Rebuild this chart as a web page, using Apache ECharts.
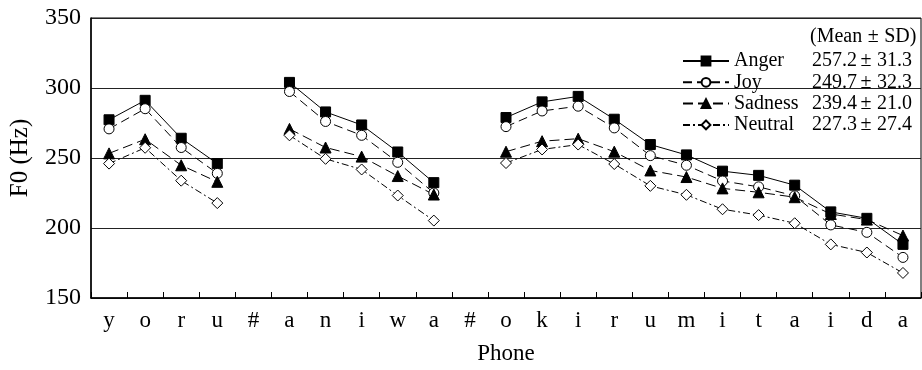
<!DOCTYPE html>
<html>
<head>
<meta charset="utf-8">
<script src="https://cdn.jsdelivr.net/npm/echarts@6/dist/echarts.min.js"></script>
<style>
  html, body { margin: 0; padding: 0; background: #fff; }
  #chart { width: 922px; height: 370px; }
</style>
</head>
<body>
<div id="chart"></div>
<script>
var phones = ['y','o','r','u','#','a','n','i','w','a','#','o','k','i','r','u','m','i','t','a','i','d','a'];

var anger   = [277.3, 291.2, 264.1, 246.0, null, 304.0, 282.9, 273.6, 254.3, 232.4, null, 278.9, 290.1, 294.0, 277.7, 259.6, 252.2, 240.6, 237.6, 230.6, 211.5, 206.9, 188.3];
var joy     = [270.8, 285.2, 257.5, 239.0, null, 297.5, 276.1, 266.2, 246.9, 225.0, null, 272.4, 283.6, 287.0, 271.5, 251.7, 244.8, 233.6, 229.4, 223.0, 202.2, 196.9, 179.0];
var sadness = [253.3, 263.4, 244.8, 233.0, null, 270.8, 257.5, 251.0, 237.1, 223.9, null, 254.5, 262.0, 263.8, 254.5, 241.1, 236.4, 228.3, 225.5, 222.0, 210.0, 206.0, 194.6];
var neutral = [246.0, 257.3, 233.8, 217.8, null, 266.2, 249.4, 241.8, 223.2, 205.3, null, 246.4, 256.1, 259.6, 245.7, 230.1, 223.7, 213.4, 209.2, 203.4, 188.3, 182.5, 167.9];

var names = ['Anger', 'Joy', 'Sadness', 'Neutral'];
var means = ['257.2', '249.7', '239.4', '227.3'];
var sds   = ['31.3', '32.3', '21.0', '27.4'];

var font = 'Liberation Serif';

var myChart = echarts.init(document.getElementById('chart'));

function line(name, data, symbol, filled, dash, size) {
    return {
        name: name,
        type: 'line',
        data: data,
        symbol: symbol,
        symbolSize: size,
        showAllSymbol: true,
        connectNulls: false,
        animation: false,
        lineStyle: { color: '#000', width: 1, type: dash },
        itemStyle: { color: filled ? '#000' : '#fff', borderColor: '#000', borderWidth: 1 },
        z: 3
    };
}

option = {
    backgroundColor: '#fff',
    textStyle: { fontFamily: font, color: '#000' },
    title: {
        text: '{a|(Mean}{p|\u00b1}{a|SD)}',
        left: 805,
        top: 22,
        textStyle: {
            fontFamily: font, fontSize: 20, fontWeight: 'normal', color: '#000',
            rich: {
                a: { fontFamily: font, fontSize: 20, color: '#000' },
                p: { fontFamily: font, fontSize: 20, color: '#000', width: 22, align: 'center' }
            }
        }
    },
    legend: {
        data: names,
        orient: 'vertical',
        left: 677,
        top: 46,
        itemWidth: 46,
        itemHeight: 11,
        itemGap: 1.3,
        textStyle: {
            fontFamily: font,
            fontSize: 20,
            color: '#000',
            rich: {
                n: { fontFamily: font, fontSize: 20, width: 78, lineHeight: 18 },
                m: { fontFamily: font, fontSize: 20, width: 43, lineHeight: 18 },
                p: { fontFamily: font, fontSize: 20, width: 22, align: 'center', lineHeight: 18 },
                s: { fontFamily: font, fontSize: 20, lineHeight: 18 }
            }
        },
        formatter: function (name) {
            var i = names.indexOf(name);
            return '{n|' + name + '}{m|' + means[i] + '}{p|\u00b1}{s|' + sds[i] + '}';
        }
    },
    grid: { left: 89, right: 1, top: 18, bottom: 65, show: true, borderColor: '#000', borderWidth: 1 },
    xAxis: [
        {
            type: 'category',
            data: phones,
            boundaryGap: true,
            name: 'Phone',
            nameLocation: 'middle',
            nameGap: 44,
            nameTextStyle: { fontFamily: font, fontSize: 23, color: '#000' },
            axisLine: { lineStyle: { color: '#000', width: 1.5 } },
            axisTick: { show: true, inside: true, length: 6, lineStyle: { color: '#000' } },
            axisLabel: { fontFamily: font, fontSize: 23, color: '#000', margin: 11, interval: 0 },
            splitLine: { show: false }
        }
    ],
    yAxis: [
        {
            type: 'value',
            min: 150,
            max: 350,
            interval: 50,
            name: 'F0 (Hz)',
            nameLocation: 'middle',
            nameGap: 58,
            nameTextStyle: { fontFamily: font, fontSize: 25, color: '#000' },
            axisLine: { show: true, lineStyle: { color: '#000', width: 1.5 } },
            axisTick: { show: false },
            axisLabel: { fontFamily: font, fontSize: 24, color: '#000', margin: 10 },
            splitLine: { show: true, lineStyle: { color: '#222', width: 1 } }
        }
    ],
    series: [
        line('Anger', anger, 'rect', true, 'solid', 10),
        line('Joy', joy, 'circle', false, [9, 5], 10),
        line('Sadness', sadness, 'triangle', true, [10, 5], 11),
        line('Neutral', neutral, 'diamond', false, [7, 3, 2, 3], 11)
    ]
};

myChart.setOption(option, true);
</script>
</body>
</html>
